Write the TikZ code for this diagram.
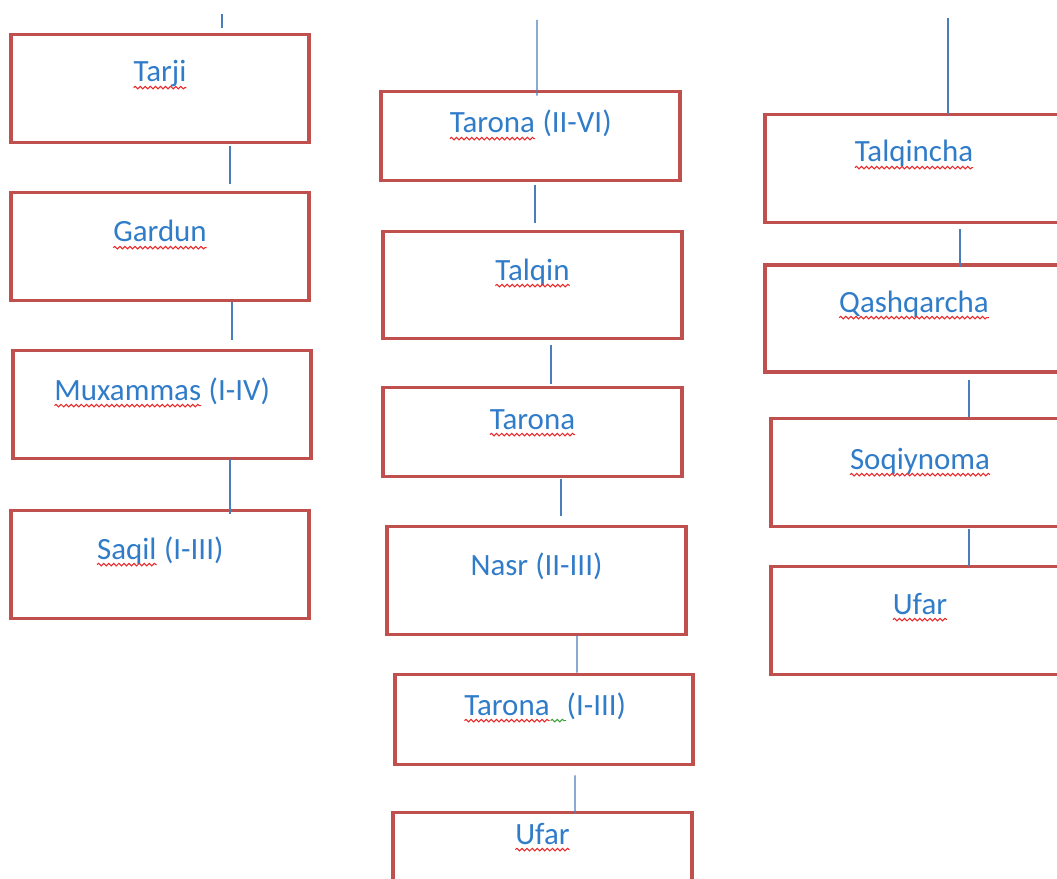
\documentclass[tikz,border=0pt]{standalone}
\usepackage{fontspec}
\setmainfont{Carlito}
\usetikzlibrary{decorations.pathmorphing}
\definecolor{boxred}{RGB}{192,80,77}
\definecolor{txtblue}{RGB}{48,124,200}
\definecolor{lineblue}{RGB}{74,126,187}
\definecolor{spell}{RGB}{232,40,40}
\definecolor{spellgreen}{RGB}{60,160,60}
\newcommand\sqw[2][spell]{\tikz[baseline=(sqwn.base)]{\node[inner sep=0pt,outer sep=0pt](sqwn){#2};\draw[#1,line width=0.75pt,decorate,decoration={snake,amplitude=0.9pt,segment length=3.6pt}] ([yshift=-4pt]sqwn.base west) -- ([yshift=-4pt]sqwn.base east);}}
\tikzset{
  box/.style={draw=boxred,line width=2.8pt,rectangle,inner sep=0pt,minimum width=7.45cm},
  lbl/.style={text=txtblue,font=\fontsize{22}{25}\selectfont,anchor=base,inner sep=0pt},
  conn/.style={draw=lineblue,line width=1pt}
}
\begin{document}
\begin{tikzpicture}[x=0.025cm,y=-0.025cm]
\useasboundingbox (0,0) rectangle (1057,879);
\clip (0,0) rectangle (1057,879);
% column 1
\node[box,minimum height=2.7cm] (b1) at (160,88.5) {};
\node[box,minimum height=2.7cm] (b2) at (160,246.5) {};
\node[box,minimum height=2.7cm] (b3) at (162,404.5) {};
\node[box,minimum height=2.7cm] (b4) at (160,564.5) {};
\node[lbl] (t1) at (160,82) {\sqw{Tarji}};
\node[lbl] (t2) at (160,242) {\sqw{Gardun}};
\node[lbl] (t3) at (162,400) {\sqw{Muxammas} (I-IV)};
\node[lbl] (t4) at (160,559) {\sqw{Saqil} (I-III)};
% column 2
\node[box,minimum height=2.225cm] (c1) at (530.5,136) {};
\node[box,minimum height=2.675cm] (c2) at (532.5,285) {};
\node[box,minimum height=2.225cm] (c3) at (532.5,432) {};
\node[box,minimum height=2.7cm] (c4) at (536.5,580.5) {};
\node[box,minimum height=2.25cm] (c5) at (544,719.5) {};
\node[box,minimum height=2.7cm] (c6) at (542.5,866.5) {};
\node[lbl] (u1) at (530.5,133) {\sqw{Tarona} (II-VI)};
\node[lbl] (u2) at (532.5,280) {\sqw{Talqin}};
\node[lbl] (u3) at (532.5,429) {\sqw{Tarona}};
\node[lbl] (u4) at (536.5,575) {Nasr (II-III)};
\node[lbl] (u5) at (545,715) {\sqw{Tarona}\sqw[spellgreen]{\rule{0.5em}{0pt}}(I-III)};
\node[lbl] (u6) at (542.5,844) {\sqw{Ufar}};
% column 3
\node[box,minimum height=2.7cm] (d1) at (914,168.5) {};
\node[box,minimum height=2.675cm] (d2) at (914,318.5) {};
\node[box,minimum height=2.7cm] (d3) at (920,472.5) {};
\node[box,minimum height=2.7cm] (d4) at (920,620.5) {};
\node[lbl] (v1) at (914,162) {\sqw{Talqincha}};
\node[lbl] (v2) at (914,312) {\sqw{Qashqarcha}};
\node[lbl] (v3) at (920,469) {\sqw{Soqiynoma}};
\node[lbl] (v4) at (920,614) {\sqw{Ufar}};
% free ends of the top connectors
\coordinate (top1) at (222,14);
\coordinate (top2) at (537,20);
\coordinate (top3) at (948,18);
% connectors column 1
\draw[conn] (top1) -- ([shift={(62,-5)}]b1.north);
\draw[conn] ([shift={(70,2)}]b1.south) -- ([shift={(70,-7)}]b2.north);
\draw[conn] ([shift={(72,0)}]b2.south) -- ([shift={(70,-9)}]b3.north);
\draw[conn] ([shift={(68,-1)}]b3.south) -- ([shift={(70,5)}]b4.north);
% connectors column 2
\draw[conn] (top2) -- ([shift={(6.5,6)}]c1.north);
\draw[conn] ([shift={(4.5,3)}]c1.south) -- ([shift={(2.5,-7)}]c2.north);
\draw[conn] ([shift={(18.5,5)}]c2.south) -- ([shift={(18.5,-2)}]c3.north);
\draw[conn] ([shift={(28.5,1)}]c3.south) -- ([shift={(24.5,-9)}]c4.north);
\draw[conn] ([shift={(40.5,-1)}]c4.south) -- ([shift={(33,0)}]c5.north);
\draw[conn] ([shift={(31,9)}]c5.south) -- ([shift={(32.5,3)}]c6.north);
% connectors column 3
\draw[conn] (top3) -- ([shift={(34,1)}]d1.north);
\draw[conn] ([shift={(46,5)}]d1.south) -- ([shift={(46,4)}]d2.north);
\draw[conn] ([shift={(55,6)}]d2.south) -- ([shift={(49,0)}]d3.north);
\draw[conn] ([shift={(49,1)}]d3.south) -- ([shift={(49,1)}]d4.north);
\end{tikzpicture}
\end{document}
